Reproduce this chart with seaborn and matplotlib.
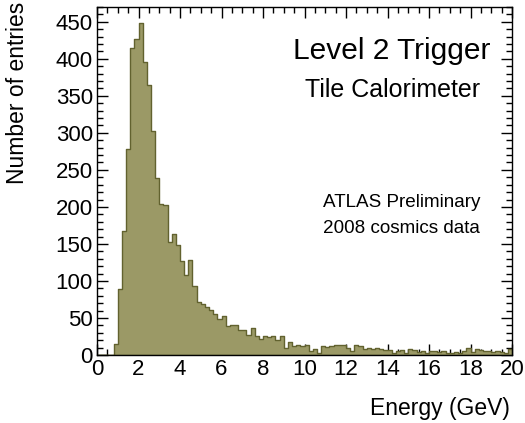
import numpy as np
import pandas as pd
import matplotlib
matplotlib.use("Agg")
import matplotlib.pyplot as plt
from matplotlib.ticker import MultipleLocator
import seaborn as sns

# Histogram binning: 100 bins of 0.2 GeV from 0 to 20 GeV
bin_width = 0.2
bin_centers = np.arange(100) * bin_width + bin_width / 2

# Entries per bin
counts = [
    0, 0, 0, 0, 15, 89, 168, 278, 415, 427,
    449, 396, 365, 302, 239, 204, 202, 153, 164, 148,
    127, 108, 128, 93, 72, 69, 65, 61, 56, 48,
    52, 39, 41, 40, 34, 34, 27, 36, 26, 22,
    25, 24, 26, 20, 25, 9, 17, 12, 13, 12,
    14, 6, 8, 3, 12, 11, 12, 13, 14, 13,
    10, 5, 13, 12, 8, 10, 8, 9, 8, 7,
    7, 3, 6, 7, 3, 8, 7, 4, 5, 3,
    5, 5, 4, 6, 3, 3, 4, 3, 6, 9,
    4, 8, 7, 5, 5, 4, 5, 4, 3, 8,
]

x_ticks = [0, 2, 4, 6, 8, 10, 12, 14, 16, 18, 20]
y_ticks = [0, 50, 100, 150, 200, 250, 300, 350, 400, 450]

FILL = "#9b9966"
EDGE = "#62622f"

df = pd.DataFrame({"energy": bin_centers, "entries": counts})

sns.set_style("ticks")
plt.rcParams["font.family"] = ["Liberation Sans", "DejaVu Sans"]
plt.rcParams["text.color"] = "black"

fig = plt.figure(figsize=(5.25, 4.23), dpi=100)
ax = fig.add_axes([97 / 525, 1 - 355 / 423, 415 / 525, 348 / 423])

sns.histplot(data=df, x="energy", weights="entries", binwidth=bin_width,
             binrange=(0, 20), element="step", fill=True, color=FILL,
             edgecolor=EDGE, linewidth=1.0, alpha=1, ax=ax)

ax.set_xlim(0, 20)
ax.set_ylim(0, 470)
ax.set_xticks(x_ticks)
ax.set_yticks(y_ticks)
ax.xaxis.set_minor_locator(MultipleLocator(0.5))
ax.yaxis.set_minor_locator(MultipleLocator(10))
ax.tick_params(which="both", direction="in", top=True, right=True,
               labelsize=16, colors="black", labelcolor="black")
ax.tick_params(which="major", length=8, width=1)
ax.tick_params(which="minor", length=4.5, width=1)
ax.tick_params(axis="y", pad=3)
ax.tick_params(axis="x", pad=3)
for s in ax.spines.values():
    s.set_visible(True)
    s.set_color("black")
    s.set_linewidth(1)
ax.set_xlabel("")
ax.set_ylabel("")

fig.text(18 / 525, 1 - 2 / 423, "Number of entries", rotation=90,
         ha="center", va="top", fontsize=16.5, color="black")
fig.text(510 / 525, 1 - 408 / 423, "Energy (GeV)", ha="right", va="center",
         fontsize=16.5, color="black")

ax.text(0.472, 0.851, "Level 2 Trigger", transform=ax.transAxes,
        fontsize=21.5, ha="left", va="baseline", color="black")
ax.text(0.501, 0.741, "Tile Calorimeter", transform=ax.transAxes,
        fontsize=18, ha="left", va="baseline", color="black")
ax.text(0.545, 0.425, "ATLAS Preliminary", transform=ax.transAxes,
        fontsize=13.6, ha="left", va="baseline", color="black")
ax.text(0.545, 0.351, "2008 cosmics data", transform=ax.transAxes,
        fontsize=13.6, ha="left", va="baseline", color="black")

fig.savefig("out.png", dpi=100)
plt.close(fig)
